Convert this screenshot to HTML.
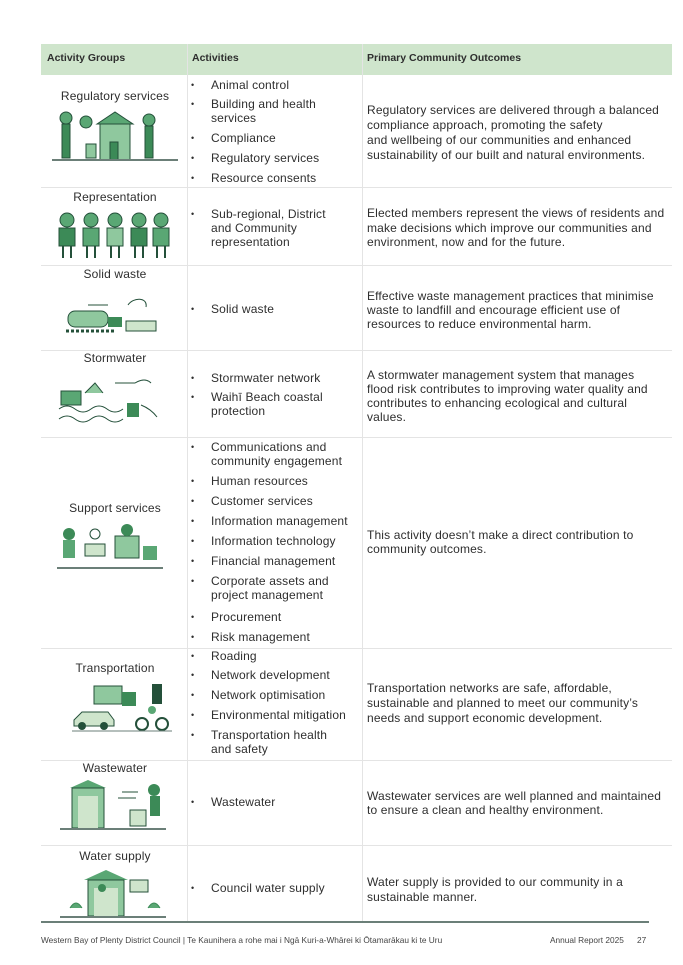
<!DOCTYPE html>
<html><head><meta charset="utf-8"><style>
body{margin:0;width:683px;height:965px;background:#fff;position:relative;overflow:hidden;font-family:"Liberation Sans",sans-serif;color:#2e2e2e}
.a{position:absolute;font-size:12px;letter-spacing:0.15px;line-height:14px;white-space:nowrap}
.h{position:absolute;font-size:10.5px;font-weight:bold;top:52px}
.hl{position:absolute;left:41px;width:631px;height:1px;background:#e4e4e4}
.vl{position:absolute;width:1px;background:#e4e4e4}
.b{position:absolute;left:191px;font-size:9px;line-height:14px}
.c{position:absolute;left:50px;width:130px;text-align:center;font-size:12px;letter-spacing:0.15px;line-height:14px}
svg{position:absolute}
</style></head><body>
<div style="position:absolute;left:41px;top:44px;width:631px;height:31px;background:#cfe5cc"></div>
<div class="h" style="left:47px">Activity Groups</div>
<div class="h" style="left:192px">Activities</div>
<div class="h" style="left:367px">Primary Community Outcomes</div>
<div class="vl" style="left:187px;top:44px;height:878px"></div>
<div class="vl" style="left:362px;top:44px;height:878px"></div>
<div class="hl" style="top:187px"></div><div class="hl" style="top:265px"></div><div class="hl" style="top:350px"></div><div class="hl" style="top:437px"></div><div class="hl" style="top:648px"></div><div class="hl" style="top:760px"></div><div class="hl" style="top:845px"></div>
<div style="position:absolute;left:41px;top:921px;width:608px;height:2px;background:#6b7f78"></div>

<div class="c" style="top:89px">Regulatory services</div>
<div class="c" style="top:190px">Representation</div>
<div class="c" style="top:267px">Solid waste</div>
<div class="c" style="top:351px">Stormwater</div>
<div class="c" style="top:501px">Support services</div>
<div class="c" style="top:661px">Transportation</div>
<div class="c" style="top:761px">Wastewater</div>
<div class="c" style="top:849px">Water supply</div>

<svg style="left:50px;top:110px" width="130" height="52"><g fill="#5aa774" stroke="#24503a" stroke-width="1"><rect x="50" y="14" width="30" height="36" fill="#8fc89e"/><polygon points="47,14 65,2 83,14" fill="#5aa774"/><rect x="60" y="32" width="8" height="18" fill="#3c8a57"/><circle cx="36" cy="12" r="6"/><rect x="12" y="14" width="8" height="34" fill="#3c8a57"/><circle cx="16" cy="8" r="6"/><rect x="95" y="16" width="8" height="32" fill="#3c8a57"/><circle cx="99" cy="10" r="6"/><rect x="36" y="34" width="10" height="14" fill="#8fc89e"/></g><line x1="2" y1="50" x2="128" y2="50" stroke="#6b7f78" stroke-width="2"/></svg>
<svg style="left:55px;top:210px" width="120" height="50"><g fill="#5aa774" stroke="#24503a"><circle cx="12" cy="10" r="7"/><circle cx="36" cy="10" r="7"/><circle cx="60" cy="10" r="7"/><circle cx="84" cy="10" r="7"/><circle cx="106" cy="10" r="7"/><rect x="4" y="18" width="16" height="18" fill="#3c8a57"/><rect x="28" y="18" width="16" height="18"/><rect x="52" y="18" width="16" height="18" fill="#8fc89e"/><rect x="76" y="18" width="16" height="18" fill="#3c8a57"/><rect x="98" y="18" width="16" height="18"/></g><g stroke="#24503a" stroke-width="2"><path d="M8 36v12M16 36v12M32 36v12M40 36v12M56 36v12M64 36v12M80 36v12M88 36v12M102 36v12M110 36v12"/></g></svg>
<svg style="left:58px;top:295px" width="100" height="42"><g stroke="#24503a" fill="none"><path d="M30 10h20M70 10c5-8 20-8 18 2"/></g><rect x="10" y="16" width="40" height="16" rx="7" fill="#8fc89e" stroke="#24503a"/><rect x="50" y="22" width="14" height="10" fill="#3c8a57"/><rect x="68" y="26" width="30" height="10" fill="#cfe5cc" stroke="#24503a"/><path d="M8 36h50" stroke="#24503a" stroke-width="3" stroke-dasharray="3 2"/></svg>
<svg style="left:55px;top:375px" width="110" height="52"><rect x="6" y="16" width="20" height="14" fill="#5aa774" stroke="#24503a"/><path d="M30 18l10-10 8 10" fill="#8fc89e" stroke="#24503a"/><path d="M4 34q8-6 16 0t16 0t16 0t16 0M4 44q8-6 16 0t16 0t16 0t16 0" stroke="#24503a" fill="none"/><rect x="72" y="28" width="12" height="14" fill="#3c8a57"/><path d="M86 30q10 4 16 12" stroke="#24503a" fill="none"/><path d="M60 8h20q10-6 16 0" stroke="#24503a" fill="none"/></svg>
<svg style="left:55px;top:522px" width="110" height="50"><circle cx="14" cy="12" r="6" fill="#3c8a57"/><rect x="8" y="18" width="12" height="18" fill="#5aa774"/><rect x="30" y="22" width="20" height="12" fill="#cfe5cc" stroke="#24503a"/><circle cx="40" cy="12" r="5" fill="none" stroke="#24503a"/><rect x="60" y="14" width="24" height="22" fill="#8fc89e" stroke="#24503a"/><circle cx="72" cy="8" r="6" fill="#3c8a57"/><rect x="88" y="24" width="14" height="14" fill="#5aa774"/><path d="M2 46h106" stroke="#6b7f78" stroke-width="2"/></svg>
<svg style="left:72px;top:682px" width="100" height="52"><rect x="22" y="4" width="28" height="18" fill="#8fc89e" stroke="#24503a"/><rect x="50" y="10" width="14" height="14" fill="#3c8a57"/><rect x="80" y="2" width="10" height="20" fill="#24503a"/><path d="M2 38l8-8h26l6 8v6H2z" fill="#cfe5cc" stroke="#24503a"/><circle cx="10" cy="44" r="4" fill="#24503a"/><circle cx="32" cy="44" r="4" fill="#24503a"/><circle cx="70" cy="42" r="6" fill="none" stroke="#24503a" stroke-width="2"/><circle cx="90" cy="42" r="6" fill="none" stroke="#24503a" stroke-width="2"/><circle cx="80" cy="28" r="4" fill="#5aa774"/><path d="M0 49h100" stroke="#6b7f78"/></svg>
<svg style="left:58px;top:780px" width="110" height="52"><polygon points="12,8 30,0 48,8" fill="#5aa774"/><rect x="14" y="8" width="32" height="40" fill="#8fc89e" stroke="#24503a"/><rect x="20" y="16" width="20" height="32" fill="#cfe5cc"/><rect x="72" y="30" width="16" height="16" fill="#cfe5cc" stroke="#24503a"/><circle cx="96" cy="10" r="6" fill="#3c8a57"/><rect x="92" y="16" width="10" height="20" fill="#3c8a57"/><path d="M64 12h16M60 18h18" stroke="#24503a"/><path d="M2 49h106" stroke="#6b7f78" stroke-width="2"/></svg>
<svg style="left:58px;top:868px" width="110" height="52"><polygon points="26,12 48,2 70,12" fill="#5aa774"/><rect x="30" y="12" width="36" height="36" fill="#8fc89e" stroke="#24503a"/><rect x="36" y="20" width="24" height="28" fill="#cfe5cc"/><circle cx="44" cy="20" r="4" fill="#3c8a57"/><rect x="72" y="12" width="18" height="12" fill="#cfe5cc" stroke="#24503a"/><path d="M12 40q6-10 12 0M90 40q6-10 12 0" stroke="#3c8a57" fill="#5aa774"/><path d="M2 49h106" stroke="#6b7f78" stroke-width="2"/></svg>

<div class="b" style="top:78px">•</div><div class="a" style="left:211px;top:78px">Animal control</div>
<div class="b" style="top:97px">•</div><div class="a" style="left:211px;top:97px">Building and health<br>services</div>
<div class="b" style="top:131px">•</div><div class="a" style="left:211px;top:131px">Compliance</div>
<div class="b" style="top:151px">•</div><div class="a" style="left:211px;top:151px">Regulatory services</div>
<div class="b" style="top:171px">•</div><div class="a" style="left:211px;top:171px">Resource consents</div>

<div class="b" style="top:207px">•</div><div class="a" style="left:211px;top:207px">Sub-regional, District<br>and Community<br>representation</div>
<div class="b" style="top:302px">•</div><div class="a" style="left:211px;top:302px">Solid waste</div>
<div class="b" style="top:371px">•</div><div class="a" style="left:211px;top:371px">Stormwater network</div>
<div class="b" style="top:390px">•</div><div class="a" style="left:211px;top:390px">Waihī Beach coastal<br>protection</div>

<div class="b" style="top:440px">•</div><div class="a" style="left:211px;top:440px">Communications and<br>community engagement</div>
<div class="b" style="top:474px">•</div><div class="a" style="left:211px;top:474px">Human resources</div>
<div class="b" style="top:494px">•</div><div class="a" style="left:211px;top:494px">Customer services</div>
<div class="b" style="top:514px">•</div><div class="a" style="left:211px;top:514px">Information management</div>
<div class="b" style="top:534px">•</div><div class="a" style="left:211px;top:534px">Information technology</div>
<div class="b" style="top:554px">•</div><div class="a" style="left:211px;top:554px">Financial management</div>
<div class="b" style="top:574px">•</div><div class="a" style="left:211px;top:574px">Corporate assets and<br>project management</div>
<div class="b" style="top:610px">•</div><div class="a" style="left:211px;top:610px">Procurement</div>
<div class="b" style="top:630px">•</div><div class="a" style="left:211px;top:630px">Risk management</div>

<div class="b" style="top:649px">•</div><div class="a" style="left:211px;top:649px">Roading</div>
<div class="b" style="top:668px">•</div><div class="a" style="left:211px;top:668px">Network development</div>
<div class="b" style="top:688px">•</div><div class="a" style="left:211px;top:688px">Network optimisation</div>
<div class="b" style="top:708px">•</div><div class="a" style="left:211px;top:708px">Environmental mitigation</div>
<div class="b" style="top:728px">•</div><div class="a" style="left:211px;top:728px">Transportation health<br>and safety</div>

<div class="b" style="top:795px">•</div><div class="a" style="left:211px;top:795px">Wastewater</div>
<div class="b" style="top:881px">•</div><div class="a" style="left:211px;top:881px">Council water supply</div>

<div class="a" style="left:367px;top:103px;line-height:15px">Regulatory services are delivered through a balanced<br>compliance approach, promoting the safety<br>and wellbeing of our communities and enhanced<br>sustainability of our built and natural environments.</div>
<div class="a" style="left:367px;top:206px;line-height:14.5px">Elected members represent the views of residents and<br>make decisions which improve our communities and<br>environment, now and for the future.</div>
<div class="a" style="left:367px;top:289px;line-height:14px">Effective waste management practices that minimise<br>waste to landfill and encourage efficient use of<br>resources to reduce environmental harm.</div>
<div class="a" style="left:367px;top:368px;line-height:14px">A stormwater management system that manages<br>flood risk contributes to improving water quality and<br>contributes to enhancing ecological and cultural<br>values.</div>
<div class="a" style="left:367px;top:528px;line-height:14px">This activity doesn’t make a direct contribution to<br>community outcomes.</div>
<div class="a" style="left:367px;top:681px;line-height:15px">Transportation networks are safe, affordable,<br>sustainable and planned to meet our community’s<br>needs and support economic development.</div>
<div class="a" style="left:367px;top:789px;line-height:14px">Wastewater services are well planned and maintained<br>to ensure a clean and healthy environment.</div>
<div class="a" style="left:367px;top:875px;line-height:15px">Water supply is provided to our community in a<br>sustainable manner.</div>

<div class="a" style="left:41px;top:933px;font-size:8.3px;letter-spacing:0;color:#444">Western Bay of Plenty District Council | Te Kaunihera a rohe mai i Ngā Kuri-a-Whārei ki Ōtamarākau ki te Uru</div>
<div class="a" style="left:550px;top:933px;font-size:8.3px;letter-spacing:0;color:#444">Annual Report 2025</div>
<div class="a" style="left:637px;top:933px;font-size:8.3px;letter-spacing:0;color:#444">27</div>
</body></html>
